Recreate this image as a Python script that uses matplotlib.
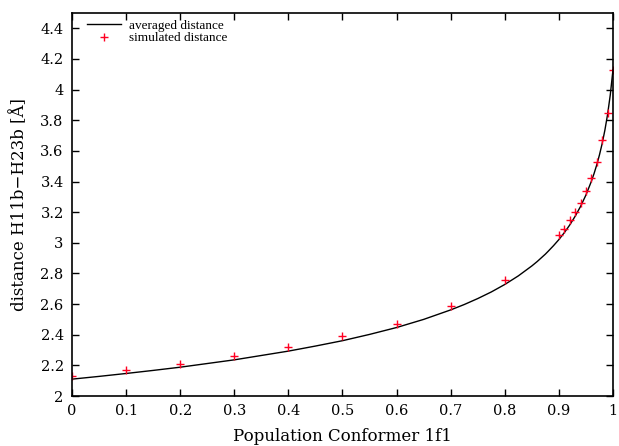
import matplotlib
matplotlib.use("Agg")
import matplotlib.pyplot as plt
from matplotlib.ticker import FormatStrFormatter

# averaged distance curve
pop_avg = [0.0, 0.05, 0.1, 0.15, 0.2, 0.3, 0.4, 0.45, 0.5, 0.55, 0.6, 0.65,
           0.7, 0.725, 0.75, 0.775, 0.8, 0.825, 0.85, 0.86, 0.875, 0.88, 0.89,
           0.9, 0.91, 0.92, 0.93, 0.94, 0.95, 0.96, 0.965, 0.97, 0.975, 0.98,
           0.985, 0.99, 0.995, 1.0]
dist_avg = [2.110, 2.128, 2.147, 2.167, 2.188, 2.236, 2.293, 2.326, 2.361, 2.402,
            2.447, 2.500, 2.562, 2.597, 2.636, 2.679, 2.728, 2.784, 2.849, 2.878,
            2.926, 2.944, 2.981, 3.021, 3.066, 3.116, 3.173, 3.237, 3.312, 3.401,
            3.452, 3.509, 3.574, 3.648, 3.735, 3.838, 3.966, 4.130]

# simulated distances (red crosses)
pop_sim = [0.0, 0.1, 0.2, 0.3, 0.4, 0.5, 0.6, 0.7, 0.8,
           0.9, 0.91, 0.92, 0.93, 0.94, 0.95, 0.96, 0.97, 0.98, 0.99, 1.0]
dist_sim = [2.13, 2.17, 2.21, 2.26, 2.32, 2.39, 2.47, 2.59, 2.76,
            3.05, 3.09, 3.15, 3.20, 3.26, 3.34, 3.42, 3.53, 3.67, 3.85, 4.13]

xticks = [0, 0.1, 0.2, 0.3, 0.4, 0.5, 0.6, 0.7, 0.8, 0.9, 1.0]
yticks = [2, 2.2, 2.4, 2.6, 2.8, 3, 3.2, 3.4, 3.6, 3.8, 4, 4.2, 4.4]

fig = plt.figure(figsize=(6.19, 4.46), dpi=100)
ax = fig.add_axes([0.1163, 0.1121, 0.874, 0.8588])

ax.plot(pop_avg, dist_avg, color="black", lw=1.0, label="averaged distance")
ax.plot(pop_sim, dist_sim, ls="none", marker="+", ms=6, mew=1.0,
        color="#ff0022", label="simulated distance")

ax.set_xlim(0, 1)
ax.set_ylim(2, 4.5)
ax.set_xticks(xticks)
ax.set_yticks(yticks)
ax.xaxis.set_major_formatter(FormatStrFormatter("%g"))
ax.yaxis.set_major_formatter(FormatStrFormatter("%g"))
ax.tick_params(direction="in", top=True, right=True, length=5, width=1,
               labelsize=10.5, pad=6)
for lbl in ax.get_xticklabels() + ax.get_yticklabels():
    lbl.set_family("DejaVu Serif")
for s in ax.spines.values():
    s.set_linewidth(1.2)

ax.set_xlabel("Population Conformer 1f1", family="DejaVu Serif", fontsize=12,
              labelpad=7)
ax.set_ylabel("distance H11b\u2212H23b [\u00c5]", family="DejaVu Serif",
              fontsize=12, labelpad=9)

ax.legend(loc="upper left", bbox_to_anchor=(0.0177, 0.9958), frameon=False,
          prop={"family": "Liberation Serif", "size": 9.5},
          handlelength=2.6, labelspacing=0.0, borderaxespad=0.0, handletextpad=0.6)

fig.savefig("out.png", dpi=100)
